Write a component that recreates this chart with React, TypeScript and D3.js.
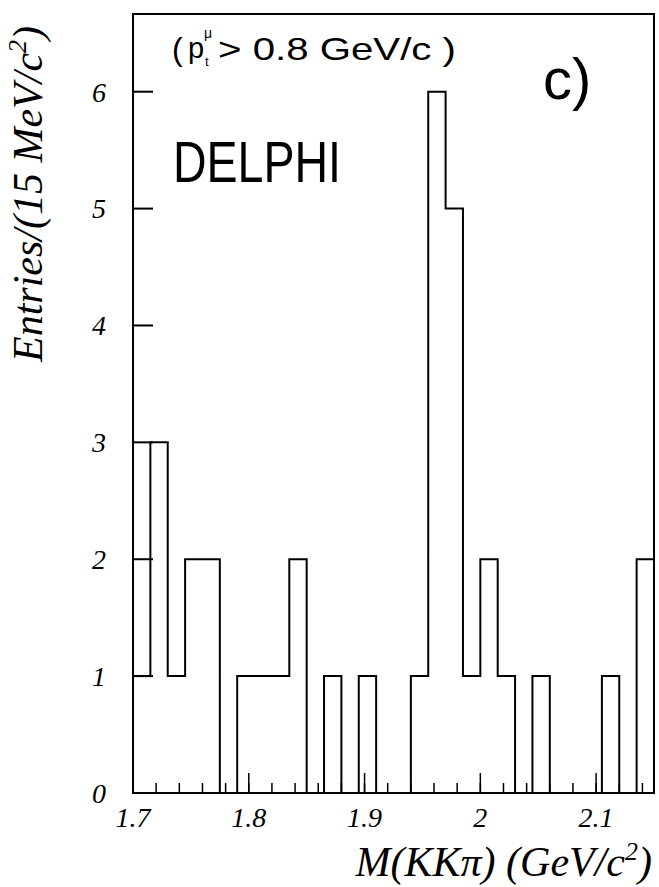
import React from "react";
import * as d3 from "d3";

// Histogram of M(KKπ), 15 MeV bins from 1.70 to 2.15 GeV/c²
const binStart = 1.7;
const binWidth = 0.015;
const counts = [1, 3, 1, 2, 2, 0, 1, 1, 1, 2, 0, 1, 0, 1, 0, 0, 1, 6, 5, 1, 2, 1, 0, 1, 0, 0, 0, 1, 0, 2];

const xDomain = [1.7, 2.15];
const yTicks = [0, 1, 2, 3, 4, 5, 6];
const xMajorTicks = [1.7, 1.8, 1.9, 2.0, 2.1];
const xMinorTicks = d3.range(0, 23).map((i) => +(1.7 + i * 0.02).toFixed(2));

const W = 659;
const H = 887;
const frame = { left: 133, right: 654, top: 14, bottom: 793 };

const serif = "'Liberation Serif', 'Times New Roman', serif";
const sans = "'Liberation Sans', Arial, sans-serif";

export default function App() {
  const x = d3.scaleLinear().domain(xDomain).range([frame.left, frame.right]);
  const y = d3.scaleLinear().domain([0, 6]).range([frame.bottom, 91.7]);

  // Step outline of the histogram
  const pts: [number, number][] = [[binStart, 0]];
  counts.forEach((c, i) => pts.push([binStart + i * binWidth, c]));
  const endX = binStart + counts.length * binWidth;
  pts.push([endX, counts[counts.length - 1]]);
  pts.push([endX, 0]);
  const step = d3
    .line<[number, number]>()
    .x((d) => x(d[0]))
    .y((d) => y(d[1]))
    .curve(d3.curveStepAfter);

  const fmt = (v: number) => String(+v.toFixed(1));

  return (
    <svg
      width={W}
      height={H}
      style={{ position: "absolute", left: 0, top: 0, background: "#fff" }}
    >
      <rect x={0} y={0} width={W} height={H} fill="#fff" />
      {/* frame */}
      <rect
        x={frame.left}
        y={frame.top}
        width={frame.right - frame.left}
        height={frame.bottom - frame.top}
        fill="none"
        stroke="#000"
        strokeWidth={2}
      />
      {/* histogram */}
      <path d={step(pts) || ""} fill="none" stroke="#000" strokeWidth={2} />

      {/* y ticks */}
      {yTicks.map((t) => (
        <g key={"y" + t}>
          <line x1={frame.left} x2={frame.left + 20} y1={y(t)} y2={y(t)} stroke="#000" strokeWidth={2} />
          <text
            x={106}
            y={y(t)}
            dy="0.35em"
            textAnchor="end"
            fontFamily={serif}
            fontStyle="italic"
            fontSize={28}
          >
            {t}
          </text>
        </g>
      ))}

      {/* x ticks */}
      {xMinorTicks.map((t) => (
        <line
          key={"m" + t}
          x1={x(t)}
          x2={x(t)}
          y1={frame.bottom}
          y2={frame.bottom - 10}
          stroke="#000"
          strokeWidth={1.5}
        />
      ))}
      {xMajorTicks.map((t) => (
        <g key={"x" + t}>
          <line x1={x(t)} x2={x(t)} y1={frame.bottom} y2={frame.bottom - 20} stroke="#000" strokeWidth={1.5} />
          <text
            x={x(t)}
            y={frame.bottom + 34}
            textAnchor="middle"
            fontFamily={serif}
            fontStyle="italic"
            fontSize={28}
          >
            {fmt(t)}
          </text>
        </g>
      ))}

      {/* axis titles */}
      <text
        x={652}
        y={876}
        textAnchor="end"
        fontFamily={serif}
        fontStyle="italic"
        fontSize={42}
      >
        M(KKπ) (GeV/c
        <tspan dy={-16} fontSize={26}>2</tspan>
        <tspan dy={16}>)</tspan>
      </text>
      <text
        transform="translate(42,362) rotate(-90)"
        textAnchor="start"
        fontFamily={serif}
        fontStyle="italic"
        fontSize={42}
      >
        Entries/(15 MeV/c
        <tspan dy={-16} fontSize={26}>2</tspan>
        <tspan dy={16}>)</tspan>
      </text>

      {/* annotations */}
      <text x={172} y={60} fontFamily={sans} fontSize={32}>(</text>
      <text x={188} y={58} fontFamily={sans} fontSize={29}>p</text>
      <text x={205} y={66} fontFamily={sans} fontSize={13}>t</text>
      <text x={204} y={38} fontFamily={sans} fontSize={14}>μ</text>
      <text x={218} y={60} fontFamily={sans} fontSize={32} textLength={238} lengthAdjust="spacingAndGlyphs">
        {"> 0.8 GeV/c )"}
      </text>
      <text x={173} y={182} fontFamily={sans} fontSize={58} textLength={168} lengthAdjust="spacingAndGlyphs">
        DELPHI
      </text>
      <text x={543} y={99} fontFamily={sans} fontSize={58}>
        c)
      </text>
    </svg>
  );
}
